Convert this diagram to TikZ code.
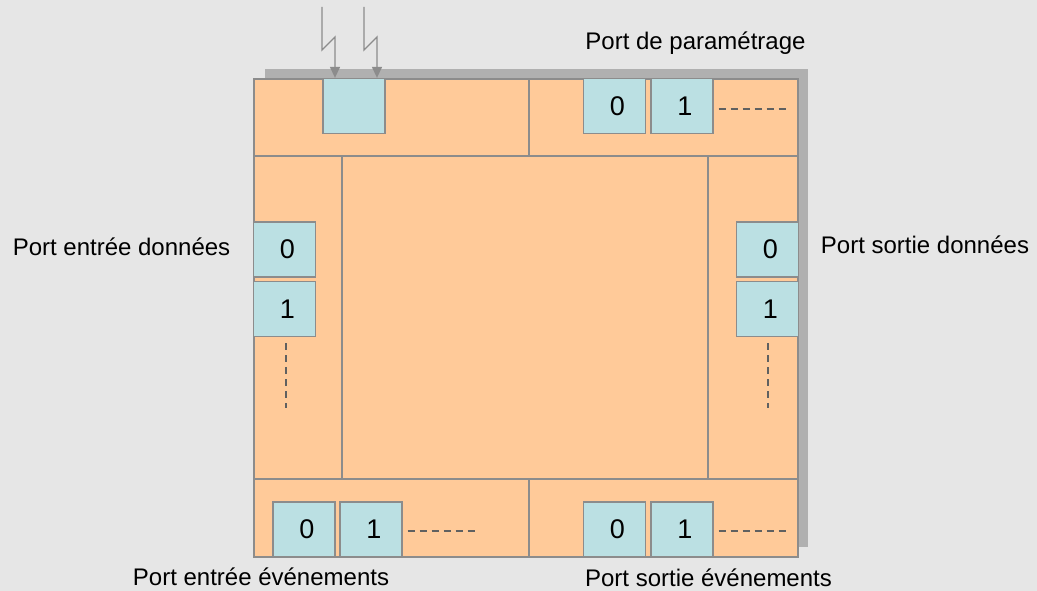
\documentclass[tikz,border=0pt]{standalone}
\usepackage{fontspec}
\setmainfont{Liberation Sans}
\usetikzlibrary{arrows.meta}

\definecolor{fond}{HTML}{E6E6E6}
\definecolor{ombre}{HTML}{B0B0B0}
\definecolor{orange}{HTML}{FFCA99}
\definecolor{bleu}{HTML}{BBE0E3}
\definecolor{bord}{HTML}{8C8C8C}
\definecolor{trait}{HTML}{606060}

\begin{document}
\begin{tikzpicture}[x=1pt,y=-1pt,
		zone/.style={fill=orange,draw=bord,line width=1.5pt},
		port/.style={fill=bleu,draw=bord,line width=1.3pt,minimum width=62pt,minimum height=55pt,inner sep=0pt,font=\fontsize{27}{30}\selectfont,execute at begin node=\hspace*{6pt}},
		etiq/.style={font=\fontsize{24}{28}\selectfont,inner sep=0pt},
		suite/.style={trait,line width=1.2pt,dash pattern=on 7pt off 5pt},
		eclair/.style={bord,line width=1.3pt,-{Triangle[length=11pt,width=10pt]}}]
			\useasboundingbox (0,0) rectangle (1037,591);
			\fill[fond] (0,0) rectangle (1037,591);

			% ombre et zones du bloc
			\fill[ombre] (265,69) rectangle (808,547);
			\draw[zone] (254,79) rectangle (529,156);
			\draw[zone] (529,79) rectangle (798,156);
			\draw[zone] (254,156) rectangle (342,479);
			\draw[zone] (342,156) rectangle (708,479);
			\draw[zone] (708,156) rectangle (798,479);
			\draw[zone] (254,479) rectangle (529,557);
			\draw[zone] (529,479) rectangle (798,557);

			% ports
			\node[port] (parm) at (354,106) {};
			\node[port] (ph0) at (614.5,106) {0};
			\node[port] (ph1) at (682,106) {1};

			\node[port] (ed0) at (284.5,249.5) {0};
			\node[port] (ed1) at (284.5,309) {1};
			\node[port] (sd0) at (767.5,249.5) {0};
			\node[port] (sd1) at (767.5,309) {1};

			\node[port] (ee0) at (304,529.5) {0};
			\node[port] (ee1) at (371,529.5) {1};
			\node[port] (se0) at (614.5,529.5) {0};
			\node[port] (se1) at (682,529.5) {1};

			\draw[suite] ([xshift=5pt,yshift=-3pt]ph1.east) -- ++(68,0);
			\draw[suite] ([xshift=5pt,yshift=-1.5pt]ee1.east) -- ++(68,0);
			\draw[suite] ([xshift=5pt,yshift=-1.5pt]se1.east) -- ++(68,0);
			\draw[suite] ([xshift=1.5pt,yshift=-6pt]ed1.south) -- ++(0,65);
			\draw[suite] ([xshift=0.5pt,yshift=-6pt]sd1.south) -- ++(0,65);

			% fleches du parametrage
			\coordinate (srcA) at (322,7);
			\coordinate (srcB) at (364,7);
			\draw[eclair] (srcA) -- ++(0,43) -- ++(13,-13) -- ([xshift=-19pt]parm.north);
			\draw[eclair] (srcB) -- ++(0,43) -- ++(13,-13) -- ([xshift=23pt]parm.north);

			% textes
			\node[etiq] (tparm) at (695.5,43) {Port de paramétrage};
			\node[etiq] (ted) at (121.5,247) {Port entrée données};
			\node[etiq] (tsd) at (925,245) {Port sortie données};
			\node[etiq] (tee) at (261,577) {Port entrée événements};
			\node[etiq] (tse) at (708.5,578) {Port sortie événements};
		\end{tikzpicture}
\end{document}
